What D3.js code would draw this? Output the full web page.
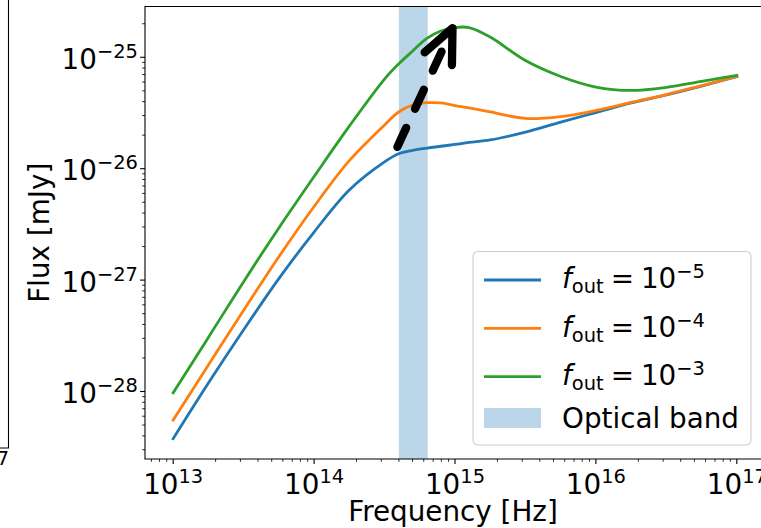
<!DOCTYPE html>
<html>
<head>
<meta charset="UTF-8">
<title>Flux vs frequency</title>
<script src="https://d3js.org/d3.v7.min.js"></script>
<style>
  body { margin: 0; background: #fff; }
  text { font-family: "DejaVu Sans", sans-serif; fill: #000; }
</style>
</head>
<body>
<svg id="chart" width="761" height="528"></svg>
<script>
// frequencies [Hz] shared by the three curves
var freq = [1e13, 1.778e13, 3.162e13, 5.623e13, 1e14, 1.778e14, 3.162e14, 3.981e14, 5.012e14,
            6.31e14, 7.943e14, 1e15, 1.259e15, 1.778e15, 3.162e15, 5.623e15, 1e16, 1.778e16,
            3.162e16, 5.623e16, 1e17];

// flux [mJy] for f_out = 1e-5, 1e-4, 1e-3
var fluxLow  = [3.77e-29, 1.19e-28, 3.58e-28, 1.03e-27, 2.70e-27, 6.44e-27, 1.15e-26, 1.36e-26, 1.46e-26,
                1.53e-26, 1.59e-26, 1.65e-26, 1.72e-26, 1.81e-26, 2.13e-26, 2.62e-26, 3.19e-26, 3.89e-26,
                4.59e-26, 5.52e-26, 6.70e-26];
var fluxMid  = [5.55e-29, 1.73e-28, 5.36e-28, 1.62e-27, 4.58e-27, 1.18e-26, 2.47e-26, 3.23e-26, 3.73e-26,
                3.91e-26, 3.89e-26, 3.69e-26, 3.51e-26, 3.23e-26, 2.83e-26, 2.94e-26, 3.33e-26, 3.93e-26,
                4.63e-26, 5.58e-26, 6.73e-26];
var fluxHigh = [9.75e-29, 3.06e-28, 9.68e-28, 2.94e-27, 8.51e-27, 2.41e-26, 6.38e-26, 8.71e-26, 1.14e-25,
                1.48e-25, 1.72e-25, 1.85e-25, 1.85e-25, 1.52e-25, 9.35e-26, 6.73e-26, 5.41e-26, 5.04e-26,
                5.36e-26, 6.07e-26, 6.89e-26];

var seriesExp = ["\u22125", "\u22124", "\u22123"];
var seriesColors = ["#1f77b4", "#ff7f0e", "#2ca02c"];

var bandEdges = [4e14, 6.4e14];          // optical band
var arrowFrom = [3.9e14, 1.57e-26];
var arrowTo   = [9.6e14, 1.83e-25];

var xTickVals = [1e13, 1e14, 1e15, 1e16, 1e17];
var xTickExp  = ["13", "14", "15", "16", "17"];
var yTickVals = [1e-28, 1e-27, 1e-26, 1e-25];
var yTickExp  = ["\u221228", "\u221227", "\u221226", "\u221225"];

var fs = 27.8;
var svg = d3.select("#chart");
var pLeft = 145, pTop = 6.5, pRight = 765, pBottom = 459;

var x = d3.scaleLog().domain([Math.pow(10, 12.8), Math.pow(10, 17.2)]).range([pLeft, pRight]);
var y = d3.scaleLog().domain([Math.pow(10, -28.606), Math.pow(10, -24.544)]).range([pBottom, pTop]);

function isPow10(d) {
  var l = Math.log10(d);
  return Math.abs(l - Math.round(l)) < 1e-6;
}

// write "10^exp" into a text element
function powLabel(t, exp) {
  t.append("tspan").text("10");
  t.append("tspan").attr("font-size", fs * 0.7).attr("dy", -0.4 * fs).text(exp);
}

// piece of the neighbouring panel at the left edge
svg.append("path").attr("d", "M8.5,0V448H0").attr("fill", "none").attr("stroke", "#000").attr("stroke-width", 1.1);
svg.append("text").attr("x", 9).attr("y", 476).attr("text-anchor", "end").attr("font-size", fs)
  .call(powLabel, "17");

svg.append("clipPath").attr("id", "clip").append("rect")
  .attr("x", pLeft).attr("y", pTop).attr("width", pRight - pLeft).attr("height", pBottom - pTop);

var plot = svg.append("g").attr("clip-path", "url(#clip)");

// optical band
plot.append("rect")
  .attr("x", x(bandEdges[0])).attr("width", x(bandEdges[1]) - x(bandEdges[0]))
  .attr("y", pTop).attr("height", pBottom - pTop)
  .attr("fill", "#1f77b4").attr("fill-opacity", 0.3);

var series = [fluxLow, fluxMid, fluxHigh];
var line = d3.line()
  .x(function(d) { return x(d[0]); })
  .y(function(d) { return y(d[1]); })
  .curve(d3.curveCatmullRom.alpha(0.5));

series.forEach(function(s, i) {
  plot.append("path")
    .datum(freq.map(function(f, j) { return [f, s[j]]; }))
    .attr("d", line)
    .attr("fill", "none")
    .attr("stroke", seriesColors[i])
    .attr("stroke-width", 2.8)
    .attr("stroke-linecap", "square");
});

// dashed arrow
var p0 = [x(arrowFrom[0]), y(arrowFrom[1])];
var p1 = [x(arrowTo[0]), y(arrowTo[1])];
var dx = p1[0] - p0[0], dy = p1[1] - p0[1];
var len = Math.sqrt(dx * dx + dy * dy);
var bx = -dx / len, by = -dy / len;
var headLen = 37, ang = 24 * Math.PI / 180;
function rot(a) {
  return [p1[0] + headLen * (bx * Math.cos(a) - by * Math.sin(a)),
          p1[1] + headLen * (bx * Math.sin(a) + by * Math.cos(a))];
}
svg.append("line")
  .attr("x1", p0[0]).attr("y1", p0[1]).attr("x2", p1[0] + 4 * bx).attr("y2", p1[1] + 4 * by)
  .attr("stroke", "#000").attr("stroke-width", 8.3)
  .attr("stroke-dasharray", "21,21").attr("stroke-linecap", "round");
var h1 = rot(ang), h2 = rot(-ang);
svg.append("path")
  .attr("d", "M" + h1 + "L" + p1 + "L" + h2)
  .attr("fill", "none").attr("stroke", "#000").attr("stroke-width", 8.3)
  .attr("stroke-linecap", "round").attr("stroke-linejoin", "round");

// spines
svg.append("path")
  .attr("d", "M761," + pTop + "H" + pLeft + "V" + pBottom + "H761")
  .attr("fill", "none").attr("stroke", "#000").attr("stroke-width", 1.1);

// ticks
var xMinor = x.ticks().filter(function(d) { return !isPow10(d); });
var yMinor = y.ticks().filter(function(d) { return !isPow10(d); });

svg.append("g").selectAll("line").data(xTickVals).join("line")
  .attr("x1", function(d) { return x(d); }).attr("x2", function(d) { return x(d); })
  .attr("y1", pBottom).attr("y2", pBottom + 4.9)
  .attr("stroke", "#000").attr("stroke-width", 1.1);
svg.append("g").selectAll("line").data(xMinor).join("line")
  .attr("x1", function(d) { return x(d); }).attr("x2", function(d) { return x(d); })
  .attr("y1", pBottom).attr("y2", pBottom + 2.8)
  .attr("stroke", "#000").attr("stroke-width", 0.85);
svg.append("g").selectAll("line").data(yTickVals).join("line")
  .attr("y1", function(d) { return y(d); }).attr("y2", function(d) { return y(d); })
  .attr("x1", pLeft).attr("x2", pLeft - 4.9)
  .attr("stroke", "#000").attr("stroke-width", 1.1);
svg.append("g").selectAll("line").data(yMinor).join("line")
  .attr("y1", function(d) { return y(d); }).attr("y2", function(d) { return y(d); })
  .attr("x1", pLeft).attr("x2", pLeft - 2.8)
  .attr("stroke", "#000").attr("stroke-width", 0.85);

// tick labels
xTickVals.forEach(function(v, i) {
  svg.append("text").attr("x", x(v)).attr("y", 494).attr("text-anchor", "middle")
    .attr("font-size", fs).call(powLabel, xTickExp[i]);
});
yTickVals.forEach(function(v, i) {
  svg.append("text").attr("x", 138).attr("y", y(v) + 11.7).attr("text-anchor", "end")
    .attr("font-size", fs).call(powLabel, yTickExp[i]);
});

// axis labels
svg.append("text").attr("x", 453).attr("y", 521).attr("text-anchor", "middle")
  .attr("font-size", fs).text("Frequency [Hz]");
svg.append("text").attr("transform", "translate(49," + ((pTop + pBottom) / 2) + ") rotate(-90)")
  .attr("text-anchor", "middle").attr("font-size", fs).text("Flux [mJy]");

// legend
var lg = svg.append("g");
lg.append("rect").attr("x", 473).attr("y", 251.5).attr("width", 278).attr("height", 193.5)
  .attr("rx", 5).attr("fill", "#fff").attr("fill-opacity", 0.8)
  .attr("stroke", "#ccc").attr("stroke-width", 1.1);

seriesExp.forEach(function(e, i) {
  var base = 288.3 + i * 48.3;
  lg.append("line").attr("x1", 484).attr("x2", 541).attr("y1", base - 8.3).attr("y2", base - 8.3)
    .attr("stroke", seriesColors[i]).attr("stroke-width", 2.8);
  var t = lg.append("text").attr("x", 562).attr("y", base).attr("font-size", fs);
  t.append("tspan").attr("font-style", "italic").text("f");
  t.append("tspan").attr("font-size", fs * 0.7).attr("dy", 5).text("out");
  t.append("tspan").attr("dy", -5).attr("dx", 7).text("=");
  t.append("tspan").attr("dx", 7).text("10");
  t.append("tspan").attr("font-size", fs * 0.7).attr("dy", -10).text(e);
});
lg.append("rect").attr("x", 484).attr("y", 408).attr("width", 57).attr("height", 20)
  .attr("fill", "#1f77b4").attr("fill-opacity", 0.3);
lg.append("text").attr("x", 562).attr("y", 428).attr("font-size", fs).text("Optical band");
</script>
</body>
</html>
